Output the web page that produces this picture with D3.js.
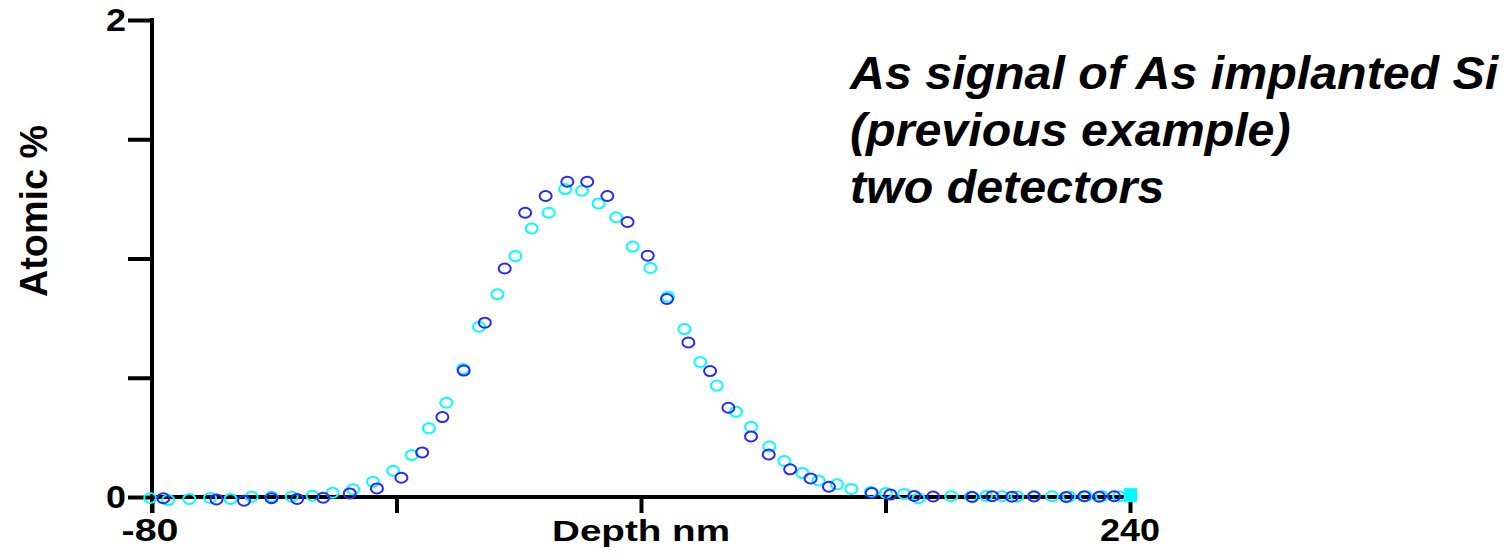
<!DOCTYPE html>
<html>
<head>
<meta charset="utf-8">
<script src="https://cdn.jsdelivr.net/npm/d3@7"></script>
<style>
  body { margin: 0; background: #fff; }
  text { font-family: "Liberation Sans", Arial, sans-serif; font-weight: bold; }
</style>
</head>
<body>
<div id="chart-area"></div>
<script>

let width = 1510,
    height = 555;

// DATA (depth in nm, atomic %)
let blueDepth = [-76.3, -58.9, -49.9, -40.9, -32.5, -24.0, -15.3, -6.4, 1.6, 8.4, 15.0, 22.0, 28.9, 35.4,
  42.1, 48.8, 55.9, 62.4, 69.0, 75.6, 82.2, 88.5, 95.5, 102.6, 108.6, 116.0, 121.8, 128.8, 135.5, 141.5,
  155.5, 161.6, 169.4, 175.6, 188.4, 194.9, 201.4, 208.6, 219.1, 225.0, 229.9, 234.8];
let blueValue = [-0.005, -0.01, -0.016, -0.005, -0.008, -0.003, 0.015, 0.036, 0.081, 0.187, 0.335, 0.530, 0.731, 0.958,
  1.192, 1.262, 1.322, 1.322, 1.262, 1.153, 1.012, 0.830, 0.648, 0.528, 0.374, 0.254, 0.178, 0.116, 0.078, 0.043,
  0.017, 0.010, 0.004, 0.002, 0.0, 0.003, 0.001, 0.002, 0.0, 0.003, 0.001, 0.003];

let cyanDepth = [-80.6, -74.7, -67.8, -61.0, -54.3, -47.4, -40.9, -34.3, -27.5, -20.9, -14.2, -7.7, -1.1, 5.0,
  10.6, 16.3, 21.8, 27.0, 33.0, 38.9, 44.2, 49.8, 55.2, 60.7, 66.1, 71.9, 77.3, 83.1, 88.8, 94.2, 99.4,
  104.8, 111.1, 116.0, 122.0, 126.9, 132.8, 138.1, 144.1, 148.8, 155.2, 160.1, 166.1, 170.8,
  181.5, 188.0, 192.9, 198.2, 203.1, 208.6, 214.5, 220.1, 225.6, 230.8, 236.4];
let cyanValue = [-0.004, -0.013, -0.008, -0.004, -0.008, 0.001, 0.001, 0.001, 0.005, 0.018, 0.032, 0.064, 0.110, 0.176,
  0.288, 0.395, 0.537, 0.714, 0.850, 1.010, 1.126, 1.192, 1.291, 1.284, 1.231, 1.173, 1.050, 0.960, 0.840, 0.704, 0.566,
  0.467, 0.357, 0.295, 0.212, 0.151, 0.101, 0.069, 0.053, 0.034, 0.021, 0.017, 0.013, -0.005,
  0.003, 0.002, 0.004, 0.003, 0.002, 0.004, 0.003, 0.002, 0.003, 0.004, 0.003];

// last cyan reading at the end of the range, drawn as a filled square
let endDepth = 240,
    endValue = 0.008;

let xTicks = [-80, 0, 80, 160, 240];
let yTicks = [0, 0.5, 1, 1.5, 2];

let titleLines = ["As signal of As implanted Si", "(previous example)", "two detectors"];

let svg = d3.select("#chart-area").append("svg")
    .attr("width", width)
    .attr("height", height);

// SCALES
let x = d3.scaleLinear().domain([-80, 240]).range([152, 1130]);
let y = d3.scaleLinear().domain([0, 2]).range([497, 20]);

// AXES
let xAxis = svg.append("g")
  .attr("transform", "translate(0," + y(0) + ")")
  .call(d3.axisBottom(x).tickValues(xTicks).tickSize(16).tickFormat(""));

let yAxis = svg.append("g")
  .attr("transform", "translate(" + x(-80) + ",0)")
  .call(d3.axisLeft(y).tickValues(yTicks).tickSize(24).tickFormat(""));

svg.selectAll(".domain")
  .attr("stroke", "#000")
  .attr("stroke-width", 4);
svg.selectAll(".tick line")
  .attr("stroke", "#000")
  .attr("stroke-width", 4);
xAxis.select(".domain").attr("d", "M" + x(-80) + ",0H" + (x(240) + 2));
yAxis.select(".domain").attr("d", "M0," + (y(2) - 2) + "V" + (y(0) + 16));

// TICK LABELS (only the ends are labelled)
svg.append("text")
  .attr("x", 126).attr("y", y(2) + 11)
  .attr("text-anchor", "end")
  .attr("font-size", 31)
  .attr("textLength", 20).attr("lengthAdjust", "spacingAndGlyphs")
  .text("2");
svg.append("text")
  .attr("x", 126).attr("y", y(0) + 11)
  .attr("text-anchor", "end")
  .attr("font-size", 31)
  .attr("textLength", 20).attr("lengthAdjust", "spacingAndGlyphs")
  .text("0");
svg.append("text")
  .attr("x", x(-80) - 2).attr("y", 541)
  .attr("text-anchor", "middle")
  .attr("font-size", 31)
  .attr("textLength", 57).attr("lengthAdjust", "spacingAndGlyphs")
  .text(xTicks[0]);
svg.append("text")
  .attr("x", x(240)).attr("y", 541)
  .attr("text-anchor", "middle")
  .attr("font-size", 31)
  .attr("textLength", 60).attr("lengthAdjust", "spacingAndGlyphs")
  .text(xTicks[xTicks.length - 1]);

// AXIS TITLES
svg.append("text")
  .attr("x", x(80)).attr("y", 541)
  .attr("text-anchor", "middle")
  .attr("font-size", 29)
  .attr("textLength", 178).attr("lengthAdjust", "spacingAndGlyphs")
  .text("Depth nm");

svg.append("text")
  .attr("transform", "translate(47,211) rotate(-90)")
  .attr("text-anchor", "middle")
  .attr("font-size", 38)
  .attr("textLength", 172).attr("lengthAdjust", "spacingAndGlyphs")
  .text("Atomic %");

// POINTS
svg.selectAll(".cyan")
  .data(d3.zip(cyanDepth, cyanValue))
  .enter().append("ellipse")
  .attr("class", "cyan")
  .attr("cx", d => x(d[0]))
  .attr("cy", d => y(d[1]))
  .attr("rx", 6).attr("ry", 5)
  .attr("fill", "none")
  .attr("stroke", "#00ffff")
  .attr("stroke-width", 2);

svg.selectAll(".blue")
  .data(d3.zip(blueDepth, blueValue))
  .enter().append("ellipse")
  .attr("class", "blue")
  .attr("cx", d => x(d[0]))
  .attr("cy", d => y(d[1]))
  .attr("rx", 6).attr("ry", 5)
  .attr("fill", "none")
  .attr("stroke", "#2828ff")
  .attr("stroke-width", 2);

svg.append("rect")
  .attr("x", x(endDepth) - 6)
  .attr("y", y(endValue) - 7)
  .attr("width", 13).attr("height", 14)
  .attr("fill", "#00ffff");

// TITLE (slightly stretched to match the original width)
svg.append("g")
  .attr("transform", "translate(850,0) scale(1.04,1)")
  .append("text")
  .attr("font-style", "italic")
  .attr("font-size", 46.5)
  .selectAll("tspan")
  .data(titleLines)
  .enter().append("tspan")
  .attr("x", 0)
  .attr("y", (d, i) => 89 + i * 57)
  .text(d => d);

</script>
</body>
</html>
